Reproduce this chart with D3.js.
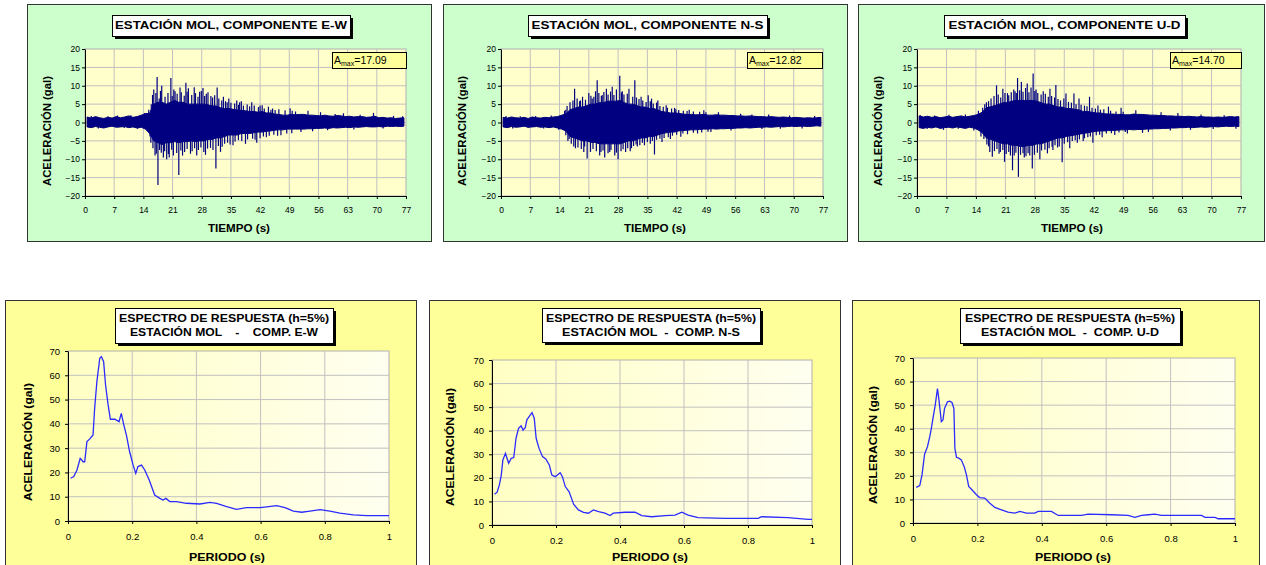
<!DOCTYPE html>
<html>
<head>
<meta charset="utf-8">
<script src="https://cdn.jsdelivr.net/npm/d3@7"></script>
<style>
  body { margin: 0; background: #fff; }
  text { font-family: 'Liberation Sans', Arial, sans-serif; }
</style>
</head>
<body>
<div id="chart"></div>
<script>
// ---- accelerogram data (per second: upper / lower edge of the solid core of the record, gal)
const timeTicks = [0, 7, 14, 21, 28, 35, 42, 49, 56, 63, 70, 77]
const accTicks = [-20, -15, -10, -5, 0, 5, 10, 15, 20]

const ewHi = [1.5, 1.2, 1.6, 1.3, 1.1, 1.4, 1.2, 1.6, 1.3, 1.5, 1.8, 1.4, 1.6, 2.0, 2.4,
  2.5, 5, 5.5, 5.5, 5, 5.5, 6, 5.5, 5.5, 5, 5, 5, 5, 5, 4.8, 4.5, 4.5, 4,
  3.8, 3.8, 3.6, 3.4, 3.3, 3.2, 3, 3, 2.8, 3, 2.6, 2.6, 2.3, 2.2, 2, 2, 2.2, 2.1,
  2.2, 2.2, 2, 2, 1.9, 1.8, 2, 1.8, 1.7, 1.9, 1.8, 1.6, 1.7, 1.5, 1.6, 1.6, 1.4, 1.5, 1.7, 1.3, 1.4, 1.2, 1.3, 1.1, 1.2, 1.3]
const ewLo = [-1.2, -1.4, -1.1, -1.3, -1.5, -1.2, -1.0, -1.3, -1.2, -1.1, -1.4, -1.2, -1.5, -1.3, -1.8,
  -3, -5, -5.5, -6, -5.5, -5.5, -5.2, -5.5, -5.2, -5.2, -5, -5.2, -5, -5, -4.6, -4.6, -4.2, -4.2,
  -3.8, -3.4, -3.4, -3.4, -3, -3, -3, -2.8, -2.6, -2.6, -2.4, -2.3, -2.1, -2, -2, -1.8, -1.8, -1.8,
  -1.8, -1.8, -1.7, -1.7, -1.6, -1.6, -1.5, -1.6, -1.4, -1.5, -1.4, -1.3, -1.4, -1.2, -1.3, -1.2, -1.1, -1.2, -1.2, -1.1, -1.2, -1.0, -1.1, -1.0, -1.1, -1.0]
// tallest peaks
const ewSpikes = [[1.5, 1.8], [3.2, -1.6], [5.5, 1.7], [7.8, 1.9], [9.4, -1.5], [11, 2], [12.6, -1.7], [14.3, 2.6],
  [15.3, 3.5], [15.6, -3.8], [16.5, 9], [16.8, -9], [17.3, 12.4], [17.5, -17.0], [18.4, 10], [18.8, -9.5], [19.6, -10],
  [20.2, -9.5], [20.6, 12.1], [21.6, 8.5], [22.5, -14.3], [22.8, 9.5], [23.4, -9], [24.2, 10.8], [24.8, 9.3],
  [25.3, -8.5], [26.2, 9.6], [26.8, -9], [27.5, 8.4], [28.3, 9.4], [28.9, -8.8], [29.5, 8.2], [30.2, 7.2],
  [31.4, -12.5], [31.7, 9.5], [32.5, -8], [33.2, 7], [34.5, 6.5], [35.5, -6.2], [36.4, 6], [37.5, 5.8],
  [38.5, -5.8], [40, 5.5], [41.2, -5.5], [42.5, 4.7], [43.5, -4], [45, 3.8], [47, -3.5], [49.2, 3.9],
  [50.5, 3], [51.8, -2.6], [53.5, 3.2], [54.6, -2.4], [56.5, 2.8], [58.2, -2.1], [60, 2.3], [62, 2.5],
  [64.5, -1.9], [66, 2.1], [69.2, 2.6], [71.5, -1.6], [74, 1.8], [76.2, 1.7]]
// medium peaks along the edge of the core
const ewRipple = [[15.9, 5], [16.2, 7.5], [17.0, 8], [17.8, 6.5], [18.1, 8.6], [19.2, 7], [19.9, 8], [20.9, 7.2],
  [21.3, 9], [22.1, 7.8], [23.1, 8.2], [23.8, 7.3], [24.5, 8.4], [25.6, 7.5], [26.5, 8], [27.1, 7], [27.9, 8.6],
  [28.7, 7.2], [29.1, 7.8], [30.6, 6.8], [31.1, 7.4], [32.1, 6.5], [32.8, 6], [33.7, 5.8], [34.1, 5.5], [35, 5.4],
  [35.9, 5.2], [36.8, 4.8], [37.1, 5.5], [38, 4.6], [38.9, 4.9], [39.5, 4.4], [40.6, 4.6], [41.6, 4.2], [42, 4.6],
  [43, 3.8], [44, 4.3], [44.6, 3.5], [45.6, 3.4], [46.5, 3.6], [48, 3.3], [49.7, 3.2],
  [15.8, -5.5], [16.3, -7], [17.1, -8.5], [17.9, -7.5], [18.3, -8.2], [19.1, -7.8], [20.0, -8.6], [20.8, -7.4],
  [21.2, -9], [22, -8.3], [23, -7.6], [23.9, -8], [24.5, -7.2], [25.7, -7.8], [26.3, -7], [27.2, -7.5], [27.8, -6.8],
  [28.5, -8], [29.4, -7.1], [30.1, -6.9], [30.7, -7.5], [32, -6.4], [32.9, -6.6], [33.5, -5.8], [34.2, -5.5],
  [34.8, -6], [36, -5.2], [36.8, -4.8], [37.6, -5], [39, -4.6], [40.2, -4.4], [40.8, -4.7], [42, -4.3], [42.8, -3.8],
  [44.2, -3.6], [45.3, -3.3], [46.2, -3.6], [48.4, -3], [49.6, -2.9]]

const nsHi = [1.4, 1.2, 1.5, 1.3, 1.2, 1.4, 1.1, 1.5, 1.3, 1.2, 1.4, 1.3, 1.5, 1.6, 2.0,
  2.3, 3.5, 3.8, 4.2, 4.2, 4.6, 5, 5, 5.4, 5.4, 5.8, 5.8, 5.8, 6, 5.4, 5, 5, 4.6,
  4.2, 4.2, 3.8, 3.8, 3.4, 3, 2.8, 2.6, 2.6, 2.5, 2.3, 2.2, 2.2, 2.1, 2.1, 2.2, 2, 2,
  2.1, 2, 2, 1.9, 1.9, 1.8, 1.8, 1.7, 1.8, 1.7, 1.6, 1.6, 1.5, 1.6, 1.5, 1.4, 1.5, 1.4, 1.3, 1.4, 1.3, 1.2, 1.3, 1.2, 1.3, 1.4]
const nsLo = [-1.2, -1.4, -1.1, -1.3, -1.2, -1.0, -1.3, -1.2, -1.1, -1.3, -1.2, -1.4, -1.2, -1.5, -1.8,
  -2.3, -3.8, -4.2, -4.6, -5, -5, -5.4, -5.4, -5.8, -5.8, -5.8, -5.8, -5.8, -5.8, -5.4, -5, -5, -4.6,
  -4.2, -4.2, -3.8, -3.8, -3.4, -3, -2.8, -2.6, -2.6, -2.3, -2.2, -2.1, -2, -2, -1.9, -1.8, -1.8, -1.7,
  -1.8, -1.7, -1.7, -1.6, -1.6, -1.5, -1.5, -1.4, -1.5, -1.4, -1.3, -1.3, -1.2, -1.3, -1.2, -1.1, -1.2, -1.1, -1.0, -1.1, -1.0, -1.0, -1.1, -1.0, -0.9, -1.0]
const nsSpikes = [[1.2, 1.8], [2.8, -1.6], [4.6, 1.7], [6.5, -1.5], [8.3, 1.8], [10.2, -1.6], [12, 1.9], [13.8, -2],
  [15.5, 3.5], [16.3, -4.5], [17.6, 9.2], [17.8, -7], [19, 6], [19.8, -8], [20.6, -9.8], [21, 8], [21.8, 6.5], [22.6, 8.5],
  [23, 11.5], [23.6, -9], [24.2, 7.5], [24.8, -9.5], [25.2, 9.2], [26, -8], [26.6, 9.7], [27.2, -9], [28, -10],
  [28.4, 12.7], [29, 8.5], [29.8, -8], [30.6, 9.2], [31.2, -7], [32, 11.5], [32.6, -6.5], [33.5, 7], [34.3, -6.2],
  [35.2, 7.4], [36, 6.5], [36.7, -8.7], [37.5, 6], [38.5, -5.3], [39.5, 4.7], [40.5, -4.5], [41.5, 4], [43, -3.9],
  [45, 3.5], [47, -3], [48.5, 3.3], [50.2, -2.6], [52, 2.8], [55, -2.2], [57.3, 2.4], [60, 2.2], [62.4, -1.8],
  [64, 2.2], [66.8, -1.7], [69, 1.9], [72, -1.6], [75, 1.8]]
const nsRipple = [[15.2, 3.2], [15.8, 4.5], [16.5, 5.5], [17.2, 6], [18.2, 6.5], [18.8, 5.8], [19.5, 7], [20.2, 6.2],
  [21.5, 7.3], [22.2, 7], [23.4, 8], [24, 7.2], [24.6, 8.3], [25.6, 7.6], [26.2, 8.4], [27, 7.5], [27.6, 9], [28.8, 8.2],
  [29.4, 7.6], [30.2, 7.8], [31.5, 7], [32.4, 6.8], [33, 6.4], [33.9, 6], [34.7, 5.6], [35.7, 5.8], [36.4, 5.2],
  [37.2, 5.4], [38, 4.5], [38.8, 4.3], [39.8, 4], [40.8, 3.8], [41.8, 3.6], [42.5, 3.4], [43.6, 3.2], [44.5, 3.1],
  [46, 3], [47.5, 2.9], [49, 2.8],
  [15.5, -3.5], [16.0, -5], [16.8, -5.8], [17.4, -6.5], [18.4, -6.8], [19.2, -7.2], [20, -6.5], [21.4, -8], [22, -7.2],
  [22.8, -7.8], [23.9, -8], [24.4, -7.6], [25.6, -8.4], [26.3, -7.5], [27.6, -8.2], [28.7, -7.8], [29.2, -7.3],
  [30.3, -7], [30.9, -7.8], [31.7, -6.4], [32.3, -6], [33.2, -6.2], [33.8, -5.5], [35, -5.3], [35.7, -5.8], [36.2, -5],
  [37.2, -4.7], [38, -4.4], [39, -4.2], [40, -4], [41, -3.6], [42, -3.3], [43.5, -3], [44.6, -3.2], [46, -2.8],
  [48, -2.7], [49.5, -2.5]]

const udHi = [1.8, 1.5, 1.7, 1.4, 1.6, 1.3, 1.5, 1.7, 1.4, 1.6, 1.8, 1.5, 1.7, 1.9, 2.2,
  2.8, 4, 4.3, 4.6, 5, 5.4, 5.4, 5.8, 6, 6, 6, 6, 6, 5.8, 5.4, 5, 5, 4.6,
  4.2, 4.2, 3.8, 3.8, 3.6, 3.4, 3, 3, 2.8, 2.6, 2.6, 2.4, 2.3, 2.3, 2.2, 2.2, 2.1, 2.1,
  2.3, 2.2, 2.2, 2.1, 2, 2, 1.9, 1.9, 1.8, 1.8, 1.7, 1.7, 1.6, 1.7, 1.6, 1.5, 1.6, 1.5, 1.5, 1.4, 1.5, 1.4, 1.5, 1.6, 1.5, 1.6]
const udLo = [-1.4, -1.6, -1.3, -1.5, -1.2, -1.6, -1.4, -1.3, -1.5, -1.2, -1.4, -1.6, -1.3, -1.5, -2.0,
  -2.8, -4.2, -4.6, -5, -5.4, -5.8, -5.8, -6.2, -6.2, -6.5, -6.5, -6.2, -6.2, -5.8, -5.8, -5.4, -5, -4.6,
  -4.2, -4.2, -3.8, -3.6, -3.4, -3.2, -3, -2.8, -2.6, -2.4, -2.3, -2.3, -2.2, -2.2, -2.1, -2, -2, -1.9,
  -2, -1.9, -1.9, -1.8, -1.8, -1.7, -1.7, -1.6, -1.6, -1.5, -1.5, -1.4, -1.4, -1.3, -1.4, -1.3, -1.2, -1.3, -1.2, -1.1, -1.2, -1.1, -1.0, -1.1, -1.0, -1.1]
const udSpikes = [[0.8, 2], [2.4, -1.8], [4.2, 1.9], [6.3, -2], [7.6, 2.1], [9.8, -1.7], [11.5, 2.2], [13.5, -2.2],
  [14.6, 3.2], [15.2, -3.8], [16.5, 5.5], [17.3, -8], [17.9, -9.3], [18.9, 10.1], [19.5, -8.5], [20.4, 9.2], [20.8, -10.7],
  [21.5, 8], [22.2, -9], [22.7, -13], [23.3, 8.5], [23.9, 12.1], [24.1, -14.8], [24.8, 11], [25.5, -9.5],
  [26.2, 10.6], [26.8, -9], [27.4, -12.5], [27.6, 13.3], [28.3, 9], [29.2, -10], [30, 8.5], [31, -8.4],
  [31.6, 9.2], [32.3, -7.5], [33, 10.2], [33.8, -6.5], [34.5, -10.8], [35.4, 7.9], [36.3, -7], [37.3, 7.9],
  [38.1, -5.5], [38.5, 6.5], [39.5, -5], [41, 7], [41.8, -5.5], [43, 4.6], [44, -4], [45.5, 4.3], [47, -3.4],
  [48.5, 4], [50, -3], [52, 3.3], [53.6, -2.8], [55, -2.6], [58, 2.8], [60.2, -2.2], [62, 2.6], [65, -2],
  [67.5, 2.2], [70.4, -1.8], [73, 2], [75.8, -1.7]]
const udRipple = [[15.6, 4], [16.1, 5], [17, 5.8], [17.6, 6.5], [18.3, 7.2], [19.3, 7.6], [19.9, 6.8], [20.9, 8],
  [21.8, 7.4], [22.4, 8.2], [23, 9], [23.6, 8], [24.4, 8.8], [25.2, 8.4], [25.8, 9.4], [26.6, 8.2], [27.1, 9.5],
  [28, 8.6], [28.7, 8], [29.5, 7.6], [30.5, 7.8], [31.2, 7], [32, 7.2], [32.7, 6.8], [33.5, 6.4], [34.1, 6],
  [34.9, 6.5], [36, 5.6], [36.7, 5.4], [37.8, 5], [39, 4.8], [39.8, 4.6], [40.4, 4.4], [41.6, 4], [42.4, 3.8],
  [43.6, 3.5], [44.4, 3.6], [46, 3.2], [47.3, 3], [49, 2.9],
  [15.9, -4.5], [16.6, -6], [17.0, -6.5], [18.4, -7.8], [19.0, -7.2], [19.8, -8], [20.4, -7.5], [21.2, -8.6],
  [21.8, -8], [23.1, -9], [23.5, -8.2], [24.6, -8.8], [25.2, -8.4], [25.9, -9.2], [26.4, -8.4], [27.9, -8.8],
  [28.6, -8.2], [29.6, -7.6], [30.4, -7.4], [31.4, -7], [32.1, -6.6], [32.8, -6.2], [33.4, -6.8], [35, -5.8],
  [35.8, -5.4], [36.9, -5], [37.6, -4.8], [38.6, -4.6], [39.8, -4.3], [40.6, -4], [41.2, -3.8], [42.6, -3.5],
  [43.4, -3.3], [45, -3], [46.2, -2.9], [48, -2.7], [49.5, -2.6]]

// ---- response spectra (periodo s, aceleración gal)
const periodTicks = [0, 0.2, 0.4, 0.6, 0.8, 1]
const specTicks = [0, 10, 20, 30, 40, 50, 60, 70]

const ewSpec = [[0.008, 17.6], [0.018, 18.3], [0.028, 21], [0.038, 25.8], [0.047, 24.4], [0.052, 24.4],
  [0.059, 32.7], [0.068, 33.8], [0.078, 35.4], [0.083, 46.4], [0.090, 57.4], [0.099, 67], [0.104, 67.7],
  [0.111, 65.6], [0.117, 56], [0.125, 47.8], [0.132, 41.9], [0.146, 41.9], [0.159, 40.9], [0.166, 44.3],
  [0.174, 39.5], [0.182, 35.4], [0.192, 28.5], [0.203, 23], [0.211, 19.6], [0.218, 22.4], [0.229, 23],
  [0.239, 21], [0.253, 16.9], [0.270, 10.7], [0.286, 9.3], [0.296, 8.6], [0.305, 9.3], [0.317, 8],
  [0.338, 8], [0.369, 7.3], [0.411, 7], [0.442, 7.7], [0.463, 7.3], [0.494, 5.9], [0.525, 4.8],
  [0.556, 5.5], [0.598, 5.5], [0.619, 5.8], [0.650, 6.3], [0.676, 5.5], [0.702, 4.1], [0.728, 3.6],
  [0.754, 4.1], [0.785, 4.7], [0.816, 4.1], [0.847, 3.2], [0.889, 2.5], [0.930, 2.2], [1.0, 2.2]]

const nsSpec = [[0.008, 13], [0.016, 13.9], [0.023, 17], [0.029, 21.2], [0.034, 27.6], [0.042, 30.4],
  [0.047, 28.3], [0.052, 26.2], [0.060, 28.3], [0.068, 28.6], [0.075, 36.8], [0.083, 41], [0.091, 42.1],
  [0.097, 40.3], [0.104, 41.3], [0.109, 44.6], [0.116, 46], [0.125, 47.7], [0.132, 45.3], [0.138, 36.8],
  [0.147, 32.5], [0.158, 29], [0.168, 28], [0.179, 25.5], [0.187, 21.2], [0.198, 20.5], [0.213, 22.2],
  [0.220, 20.5], [0.229, 16.3], [0.241, 14.1], [0.255, 8.8], [0.270, 6.4], [0.286, 5.4], [0.301, 5],
  [0.317, 6.4], [0.333, 5.7], [0.353, 5], [0.369, 4], [0.379, 5], [0.416, 5.4], [0.447, 5.4], [0.468, 4],
  [0.499, 3.5], [0.541, 4], [0.572, 4.2], [0.593, 5.4], [0.613, 4.2], [0.644, 3.1], [0.728, 2.8],
  [0.832, 2.8], [0.842, 3.5], [0.925, 3.1], [0.988, 2.4], [1.0, 2.4]]

const udSpec = [[0.010, 15.1], [0.021, 15.9], [0.028, 20.4], [0.036, 29.2], [0.045, 32.4], [0.052, 36.6],
  [0.057, 40.1], [0.062, 44.4], [0.069, 50], [0.076, 57], [0.081, 51.8], [0.088, 43], [0.093, 43.7],
  [0.098, 48.6], [0.107, 51.4], [0.114, 51.7], [0.121, 51.1], [0.127, 48.6], [0.130, 31.7], [0.135, 27.9],
  [0.142, 27.5], [0.150, 26.8], [0.159, 23.9], [0.166, 20.4], [0.173, 15.5], [0.183, 14.1], [0.197, 12],
  [0.207, 10.8], [0.223, 10.6], [0.238, 8.5], [0.254, 6.6], [0.275, 5.6], [0.295, 4.6], [0.316, 4.2],
  [0.332, 4.9], [0.352, 4.2], [0.378, 4.2], [0.389, 4.9], [0.430, 4.9], [0.451, 3.2], [0.523, 3.2],
  [0.544, 3.8], [0.617, 3.5], [0.668, 3.2], [0.689, 2.4], [0.710, 3.2], [0.731, 3.5], [0.751, 3.8],
  [0.772, 3.2], [0.896, 3.2], [0.907, 2.4], [0.938, 2.4], [0.948, 1.8], [1.0, 1.8]]

const waveTitles = ['ESTACIÓN MOL, COMPONENTE E-W', 'ESTACIÓN MOL, COMPONENTE N-S', 'ESTACIÓN MOL, COMPONENTE U-D']
const amaxValues = ['17.09', '12.82', '14.70']
const specTitle = 'ESPECTRO DE RESPUESTA (h=5%)'
const specSubtitles = ['ESTACIÓN MOL    -    COMP. E-W', 'ESTACIÓN MOL  -  COMP. N-S', 'ESTACIÓN MOL  -  COMP. U-D']

const width = 1266
const height = 565

const svg = d3
  .select('#chart')
  .append('svg')
  .attr('width', width)
  .attr('height', height)
  .style('display', 'block')

const defs = svg.append('defs')
const grad = defs
  .append('linearGradient')
  .attr('id', 'plot-grad')
  .attr('x1', '0%').attr('x2', '100%').attr('y1', '0%').attr('y2', '0%')
grad.append('stop').attr('offset', '0%').attr('stop-color', '#ffffc4')
grad.append('stop').attr('offset', '100%').attr('stop-color', '#fffff0')

// layout of each panel: outer box, plot area, title box, amax box, axis title positions
const waveLayout = [
  { box: [27, 4, 431, 241], plot: [85, 49, 406, 196], tbox: [112, 15, 350, 36], abox: [332, 52, 406, 68], yl: [47, 131], xl: [239, 232] },
  { box: [443, 4, 847, 241], plot: [501, 49, 823, 196], tbox: [528, 15, 767, 36], abox: [747, 52, 822, 68], yl: [462, 131], xl: [655, 232] },
  { box: [858, 4, 1264, 241], plot: [917, 49, 1241, 196], tbox: [944, 15, 1185, 36], abox: [1170, 52, 1241, 68], yl: [878, 131], xl: [1072, 232] },
]
const specLayout = [
  { box: [5, 300, 416, 572], plot: [68, 351, 389, 521], tbox: [115, 308, 333, 343], yl: [28, 442], xl: [227, 561] },
  { box: [429, 300, 840, 572], plot: [492, 360, 812, 525], tbox: [542, 308, 760, 342], yl: [450, 447], xl: [650, 561] },
  { box: [852, 300, 1259, 572], plot: [913, 358, 1235, 523], tbox: [960, 308, 1180, 343], yl: [873, 445], xl: [1073, 561] },
]

function drawFrame(L, bg, plotFill) {
  const g = svg.append('g')
  g.append('rect')
    .attr('x', L.box[0] + 0.5).attr('y', L.box[1] + 0.5)
    .attr('width', L.box[2] - L.box[0]).attr('height', L.box[3] - L.box[1])
    .attr('fill', bg).attr('stroke', '#333').attr('stroke-width', 1)
  g.append('rect')
    .attr('x', L.plot[0]).attr('y', L.plot[1])
    .attr('width', L.plot[2] - L.plot[0]).attr('height', L.plot[3] - L.plot[1])
    .attr('fill', plotFill).attr('stroke', '#b0b0b0')
  return g
}

function titleBox(g, L, lines, size, tl, lineGap) {
  const [x1, y1, x2, y2] = L.tbox
  g.append('rect').attr('x', x1 + 3).attr('y', y1 + 3).attr('width', x2 - x1).attr('height', y2 - y1).attr('fill', '#000')
  g.append('rect').attr('x', x1 + 0.5).attr('y', y1 + 0.5).attr('width', x2 - x1).attr('height', y2 - y1)
    .attr('fill', '#fff').attr('stroke', '#000')
  const cx = (x1 + x2) / 2
  const top = y1 + (y2 - y1) / 2 - (lines.length - 1) * lineGap / 2
  lines.forEach((t, i) => {
    const txt = g.append('text')
      .attr('x', cx).attr('y', top + i * lineGap)
      .attr('dy', '0.36em')
      .attr('text-anchor', 'middle')
      .attr('font-weight', 'bold')
      .attr('font-size', size)
      .style('white-space', 'pre')
      .text(t)
    if (tl[i]) txt.attr('textLength', tl[i]).attr('lengthAdjust', 'spacingAndGlyphs')
  })
}

function axisTitles(g, L, ytxt, xtxt, size, ylen, xlen) {
  g.append('text')
    .attr('transform', `translate(${L.yl[0]},${L.yl[1]}) rotate(-90)`)
    .attr('text-anchor', 'middle').attr('dy', '0.36em')
    .attr('font-weight', 'bold').attr('font-size', size)
    .attr('textLength', ylen).attr('lengthAdjust', 'spacingAndGlyphs')
    .text(ytxt)
  g.append('text')
    .attr('x', L.xl[0]).attr('y', L.xl[1])
    .attr('text-anchor', 'middle')
    .attr('font-weight', 'bold').attr('font-size', size)
    .attr('textLength', xlen).attr('lengthAdjust', 'spacingAndGlyphs')
    .text(xtxt)
}

function styleAxis(sel, size) {
  sel.select('.domain').attr('stroke', '#000')
  sel.selectAll('.tick line').attr('stroke', '#000')
  sel.selectAll('.tick text').attr('font-size', size).attr('fill', '#000')
    .style('font-family', "'Liberation Sans', Arial, sans-serif")
}

// ---- accelerograms
const waveSeries = [
  [ewHi, ewLo, ewSpikes.concat(ewRipple)],
  [nsHi, nsLo, nsSpikes.concat(nsRipple)],
  [udHi, udLo, udSpikes.concat(udRipple)],
]

waveLayout.forEach((L, k) => {
  const g = drawFrame(L, '#ccffcc', '#ffffcc')
  const x = d3.scaleLinear().domain([0, 77]).range([L.plot[0], L.plot[2]])
  const y = d3.scaleLinear().domain([-20, 20]).range([L.plot[3], L.plot[1]])

  // grid
  g.append('g').selectAll('line').data(timeTicks.slice(1, -1)).enter().append('line')
    .attr('x1', d => x(d)).attr('x2', d => x(d)).attr('y1', L.plot[1]).attr('y2', L.plot[3])
    .attr('stroke', '#c0c0c0')
  g.append('g').selectAll('line').data(accTicks.slice(1, -1)).enter().append('line')
    .attr('x1', L.plot[0]).attr('x2', L.plot[2]).attr('y1', d => y(d)).attr('y2', d => y(d))
    .attr('stroke', '#c0c0c0')

  // record: solid core between the per-second edge values + individual peaks
  const [hi, lo, spikes] = waveSeries[k]
  const band = hi.map((v, i) => [i + 0.5, v, lo[i]])
  g.append('path')
    .datum(band)
    .attr('fill', '#000080')
    .attr('stroke', '#000080')
    .attr('stroke-width', 1)
    .attr('d', d3.area().x(d => x(d[0])).y0(d => y(d[2])).y1(d => y(d[1])))
  g.append('g').selectAll('line').data(spikes).enter().append('line')
    .attr('x1', d => x(d[0])).attr('x2', d => x(d[0]))
    .attr('y1', y(0)).attr('y2', d => y(d[1]))
    .attr('stroke', '#000080').attr('stroke-width', 1.2)

  // axes
  const ax = g.append('g').attr('transform', `translate(0,${L.plot[3]})`)
    .call(d3.axisBottom(x).tickValues(timeTicks).tickSize(3).tickPadding(8).tickSizeOuter(0))
  styleAxis(ax, 8.5)
  const ay = g.append('g').attr('transform', `translate(${L.plot[0]},0)`)
    .call(d3.axisLeft(y).tickValues(accTicks).tickSize(3).tickPadding(2).tickSizeOuter(0))
  styleAxis(ay, 8.5)

  titleBox(g, L, [waveTitles[k]], 11, [232], 0)
  axisTitles(g, L, 'ACELERACIÓN (gal)', 'TIEMPO (s)', 10, 110, 62)

  // A max label
  const [ax1, ay1, ax2, ay2] = L.abox
  g.append('rect').attr('x', ax1 + 0.5).attr('y', ay1 + 0.5).attr('width', ax2 - ax1).attr('height', ay2 - ay1)
    .attr('fill', '#ffff99').attr('stroke', '#000')
  const at = g.append('text').attr('x', ax1 + 2).attr('y', ay2 - 4).attr('font-size', 10.5)
  at.append('tspan').text('A')
  at.append('tspan').attr('font-size', 7).attr('dy', 2).text('max')
  at.append('tspan').attr('dy', -2).text('=' + amaxValues[k])
})

// ---- response spectra
const specSeries = [ewSpec, nsSpec, udSpec]

specLayout.forEach((L, k) => {
  const g = drawFrame(L, '#ffff99', 'url(#plot-grad)')
  const x = d3.scaleLinear().domain([0, 1]).range([L.plot[0], L.plot[2]])
  const y = d3.scaleLinear().domain([0, 70]).range([L.plot[3], L.plot[1]])

  g.append('g').selectAll('line').data(periodTicks.slice(1, -1)).enter().append('line')
    .attr('x1', d => x(d)).attr('x2', d => x(d)).attr('y1', L.plot[1]).attr('y2', L.plot[3])
    .attr('stroke', '#c0c0c0')
  g.append('g').selectAll('line').data(specTicks.slice(1, -1)).enter().append('line')
    .attr('x1', L.plot[0]).attr('x2', L.plot[2]).attr('y1', d => y(d)).attr('y2', d => y(d))
    .attr('stroke', '#c0c0c0')

  g.append('path')
    .datum(specSeries[k])
    .attr('fill', 'none')
    .attr('stroke', '#2b2bff')
    .attr('stroke-width', 1.3)
    .attr('d', d3.line().x(d => x(d[0])).y(d => y(d[1])))

  const ax = g.append('g').attr('transform', `translate(0,${L.plot[3]})`)
    .call(d3.axisBottom(x).tickValues(periodTicks).tickFormat(d3.format('~g')).tickSize(3).tickPadding(9).tickSizeOuter(0))
  styleAxis(ax, 9.5)
  const ay = g.append('g').attr('transform', `translate(${L.plot[0]},0)`)
    .call(d3.axisLeft(y).tickValues(specTicks).tickSize(3).tickPadding(5).tickSizeOuter(0))
  styleAxis(ay, 9.5)

  titleBox(g, L, [specTitle, specSubtitles[k]], 10, [210, k === 0 ? 188 : 178], 14)
  axisTitles(g, L, 'ACELERACIÓN (gal)', 'PERIODO (s)', 10.5, 118, 76)
})
</script>
</body>
</html>
